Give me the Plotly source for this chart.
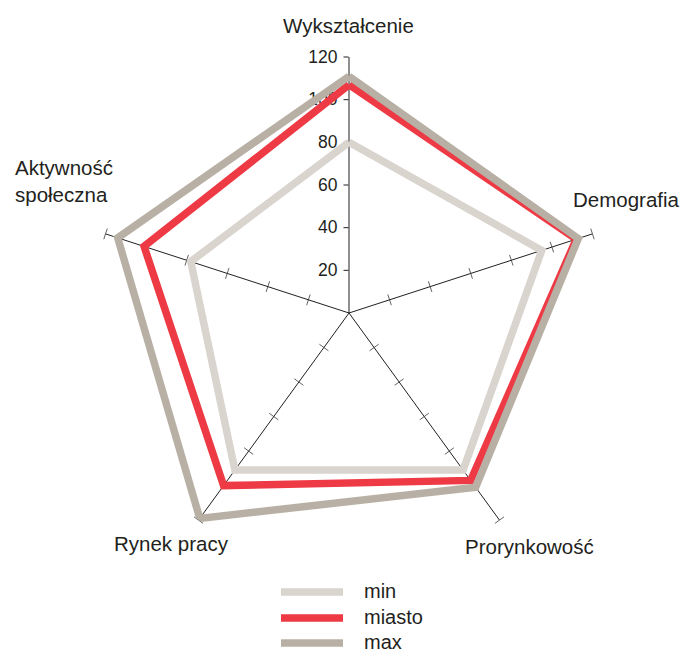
import plotly.graph_objects as go

categories = ["Wykształcenie", "Demografia", "Prorynkowość", "Rynek pracy", "Aktywność<br>społeczna"]
theta_deg = [0, 72, 144, 216, 288]
series_names = ["min", "miasto", "max"]
min_vals = [80, 95, 91, 91, 78]
miasto_vals = [107, 112, 97, 100, 101]
max_vals = [111, 113, 101, 119, 114]
radial_ticks = [20, 40, 60, 80, 100, 120]
colors = ["#d9d4cd", "#ee3a45", "#b8b0a5"]
widths = [7.5, 7.5, 7.5]

W, H = 684, 652
cx, cy, R = 349, 313, 256
ink = "#231f20"
font_family = "Liberation Sans, Arial, sans-serif"

fig = go.Figure()

# spokes with crossing ticks (top spoke is the radial axis itself)
for th in theta_deg[1:]:
    fig.add_trace(go.Scatterpolar(
        r=[0] + radial_ticks, theta=[th] * (len(radial_ticks) + 1),
        mode="lines+markers",
        line=dict(color=ink, width=1),
        marker=dict(symbol="line-ew", size=[0] + [8] * len(radial_ticks), angle=th,
                    line=dict(color=ink, width=1), color=ink),
        showlegend=False, hoverinfo="skip"))

for name, vals, col, w in zip(series_names, [min_vals, miasto_vals, max_vals], colors, widths):
    fig.add_trace(go.Scatterpolar(
        r=vals + [vals[0]], theta=theta_deg + [theta_deg[0]],
        mode="lines", name=name,
        line=dict(color=col, width=w),
        showlegend=False))

dx0 = (cx - R) / W
dx1 = (cx + R) / W
dy0 = (H - cy - R) / H
dy1 = (H - cy + R) / H

fig.update_layout(
    width=W, height=H,
    margin=dict(l=0, r=0, t=0, b=0),
    paper_bgcolor="white",
    font=dict(family=font_family, color=ink),
    polar=dict(
        domain=dict(x=[dx0, dx1], y=[dy0, dy1]),
        bgcolor="rgba(0,0,0,0)",
        angularaxis=dict(rotation=90, direction="clockwise", showgrid=False,
                         showline=False, showticklabels=False, ticks=""),
        radialaxis=dict(range=[0, 120], angle=90, tickangle=90,
                        side="counterclockwise",
                        tickvals=radial_ticks, ticktext=[str(v) for v in radial_ticks],
                        showgrid=False, showline=True, linecolor=ink, linewidth=1,
                        ticks="outside", ticklen=5, tickcolor=ink,
                        tickfont=dict(size=17.5, color=ink, family=font_family),
                        layer="below traces"),
    ),
)

# axis category labels
label_pos = [
    (349, 26, "center"),
    (626, 199, "center"),
    (529, 546, "center"),
    (171, 543, "center"),
    (13, 181, "left"),
]
for text, (x, y, al) in zip(categories, label_pos):
    fig.add_annotation(x=x / W, y=1 - y / H, xref="paper", yref="paper",
                       text=text, showarrow=False, align="left",
                       xanchor=al, yanchor="middle",
                       font=dict(size=20.5, color=ink, family=font_family))

# legend
leg_y = [592, 618, 643]
for name, col, y in zip(series_names, colors, leg_y):
    fig.add_shape(type="line", xref="paper", yref="paper",
                  x0=281 / W, x1=343 / W, y0=1 - y / H, y1=1 - y / H,
                  line=dict(color=col, width=7.5))
    fig.add_annotation(x=362 / W, y=1 - (y - 1) / H, xref="paper", yref="paper",
                       text=name, showarrow=False, xanchor="left", yanchor="middle",
                       font=dict(size=20, color=ink, family=font_family))

fig.write_html("out.html", config={"displayModeBar": False},
               post_script="document.body.style.margin='0';document.body.style.overflow='hidden';")
